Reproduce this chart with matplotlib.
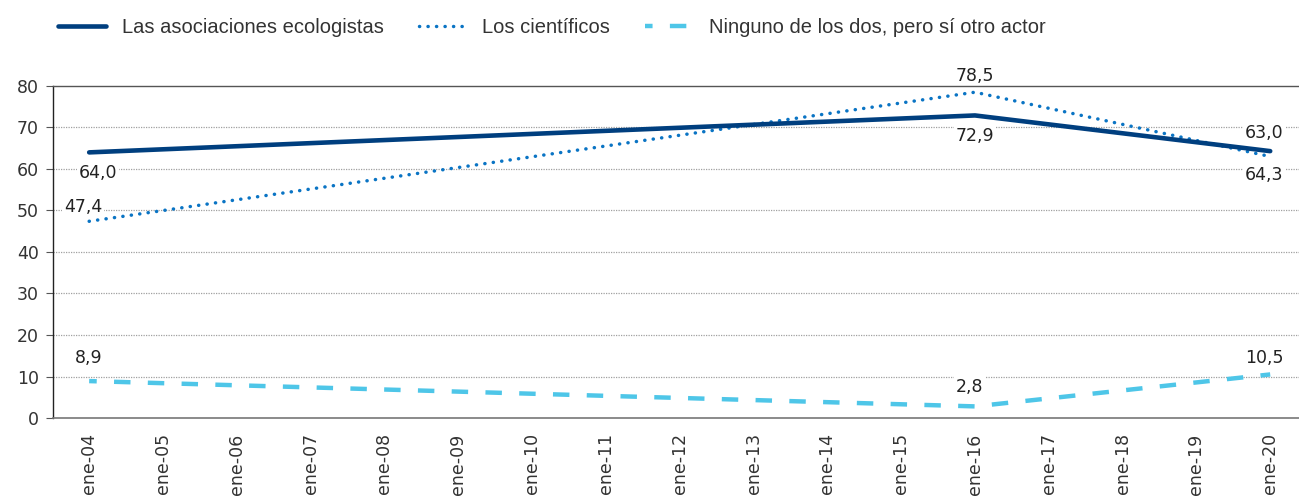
import matplotlib.pyplot as plt

plt.rcParams['font.family'] = ['DejaVu Sans']

# Etiquetas del eje x (enero de cada año)
meses = ['ene-04', 'ene-05', 'ene-06', 'ene-07', 'ene-08', 'ene-09', 'ene-10',
         'ene-11', 'ene-12', 'ene-13', 'ene-14', 'ene-15', 'ene-16', 'ene-17',
         'ene-18', 'ene-19', 'ene-20']

# Oleadas con dato
oleadas = ['ene-04', 'ene-16', 'ene-20']
ecologistas = [64.0, 72.9, 64.3]
cientificos = [47.4, 78.5, 63.0]
ninguno = [8.9, 2.8, 10.5]

x = [meses.index(o) for o in oleadas]

fig = plt.figure(figsize=(12.99, 4.99), dpi=100)
ax = fig.add_axes([0.0408, 0.1623, 0.9592, 0.6654])

c_eco = '#003f7f'
c_cie = '#0a74c4'
c_nin = '#4ec6e8'

l1, = ax.plot(x, ecologistas, color=c_eco, lw=3.3, solid_capstyle='round',
              label='Las asociaciones ecologistas', zorder=4)
l2, = ax.plot(x, cientificos, color=c_cie, lw=2.5, linestyle=(0, (0.05, 2.4)),
              dash_capstyle='round', label='Los científicos', zorder=3)
l3, = ax.plot(x, ninguno, color=c_nin, lw=3.2, linestyle=(2, (3.7, 3.9)),
              dash_capstyle='butt', label='Ninguno de los dos, pero sí otro actor', zorder=3)

def fmt(v):
    return f'{v:.1f}'.replace('.', ',')

# Desplazamientos de las etiquetas en puntos
desp_eco = [(6.5, -15), (0, -14.5), (-4.3, -17)]
desp_cie = [(-4.3, 10), (0, 12), (-4.3, 17)]
desp_nin = [(0, 16.5), (-4, 14), (-4.5, 11.5)]

for serie, desp in ((ecologistas, desp_eco), (cientificos, desp_cie), (ninguno, desp_nin)):
    for xi, v, (dx, dy) in zip(x, serie, desp):
        ax.annotate(fmt(v), (xi, v), xytext=(dx, dy), textcoords='offset points',
                    ha='center', va='center', fontsize=12.5, color='#222222', zorder=2,
                    bbox=dict(boxstyle='square,pad=0.1', fc='white', ec='none'))

ax.set_xlim(-0.49, 16.39)
ax.set_ylim(0, 80)
ax.set_yticks(range(0, 81, 10))
ax.set_xticks(range(len(meses)))
ax.set_xticklabels(meses, rotation=90, va='top')

for yv in range(10, 80, 10):
    ax.axhline(yv, color='#a0a0a0', lw=0.9, linestyle=(0, (1, 1)), zorder=1)

ax.spines['right'].set_visible(False)
ax.spines['top'].set_color('#555555')
ax.spines['top'].set_linewidth(1.0)
ax.spines['bottom'].set_color('#777777')
ax.spines['bottom'].set_linewidth(1.2)
ax.spines['left'].set_color('#222222')
ax.spines['left'].set_linewidth(1.0)

ax.tick_params(axis='y', length=5, color='#555555', labelsize=12.5, labelcolor='#333333', pad=5)
ax.tick_params(axis='x', length=0, labelsize=12.5, labelcolor='#333333', pad=11)

leg = fig.legend(handles=[l1, l2, l3], loc='center left', bbox_to_anchor=(0.0447, 0.944),
                 ncol=3, frameon=False, handlelength=2.4, handletextpad=0.75,
                 columnspacing=1.75, borderaxespad=0, borderpad=0, labelcolor='#333333',
                 prop={'family': 'Liberation Sans', 'size': 14.5})

fig.savefig('out.png', dpi=100)
